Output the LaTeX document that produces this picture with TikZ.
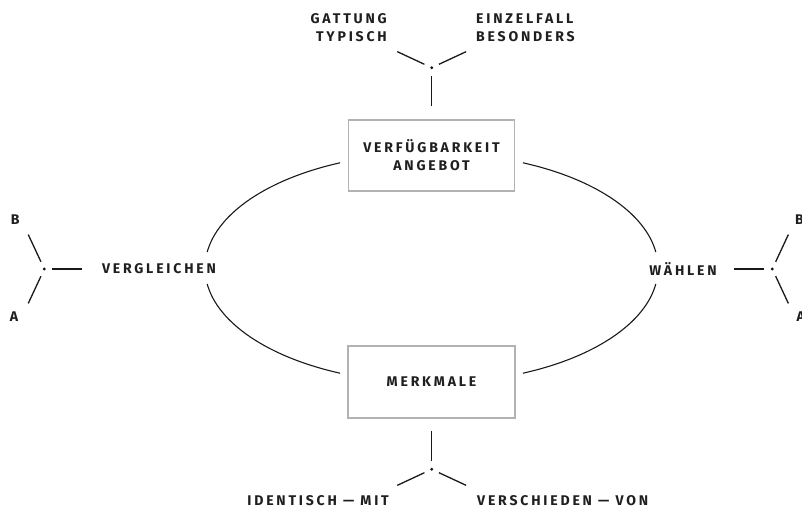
\documentclass[tikz,border=0pt]{standalone}
\usepackage{fontspec}
\setmainfont{Fira Sans}[LetterSpace=20]
\usetikzlibrary{positioning}

\begin{document}
\begin{tikzpicture}[x=1bp, y=1bp,
    lbl/.style={font=\fontsize{14.1}{18}\selectfont\bfseries, text=black!88, inner sep=0pt},
    box/.style={draw=black!30, line width=1.2bp, minimum width=166bp, minimum height=71bp, align=center},
    arm/.style={line width=1.3bp, black!90}]
      \useasboundingbox (0,0) rectangle (802,-508);
      % boxes
      \node [box, lbl, minimum width=166bp, minimum height=71bp] (vb) at (431.5,-155.5) {VERFÜGBARKEIT\\ANGEBOT};
      \node [box, lbl, minimum width=167bp, minimum height=72bp] (mm) at (431.5,-382) {MERKMALE};
      % labels
      \node [lbl, anchor=east, align=right] (gt) at (387,-28) {GATTUNG\\TYPISCH};
      \node [lbl, anchor=west, align=left]  (eb) at (476,-28) {EINZELFALL\\BESONDERS};
      \node [lbl]                (lb) at (15.3,-220) {B};
      \node [lbl]                (la) at (14.0,-317) {A};
      \node [lbl, anchor=west]   (rb) at (795,-220) {B};
      \node [lbl, anchor=west]   (ra) at (796.5,-317) {A};
      \node [lbl]                (vg) at (159,-269) {VERGLEICHEN};
      \node [lbl]                (wa) at (683,-269) {WÄHLEN};
      \node [lbl, anchor=east]   (im) at (389,-501) {IDENTISCH — MIT};
      \node [lbl, anchor=west]   (vv) at (477,-501) {VERSCHIEDEN — VON};
      % branch points
      \coordinate (tp) at (431.7,-67.7);
      \coordinate (lp) at (44.3,-269);
      \coordinate (rp) at (772.3,-269);
      \coordinate (bp) at (431.7,-469.3);
      \foreach \p in {tp,lp,rp,bp} \fill [black!90] (\p) circle (1.6);
      \foreach \a in {270,155,25}  \draw [arm] ([shift={(\a:8)}]tp) -- ([shift={(\a:38)}]tp);
      \foreach \a in {0,115,245}   \draw [arm] ([shift={(\a:8)}]lp) -- ([shift={(\a:38)}]lp);
      \foreach \a in {180,65,295}  \draw [arm] ([shift={(\a:8)}]rp) -- ([shift={(\a:38)}]rp);
      \foreach \a in {90,205,335}  \draw [arm] ([shift={(\a:8)}]bp) -- ([shift={(\a:38)}]bp);
      % ellipse, broken at boxes and labels
      \coordinate (ov) at (431.5,-268);
      \draw [arm, line width=1.1bp] ([shift={(113.8:226.5 and 115)}]ov) arc [start angle=113.8, end angle=172, x radius=226.5, y radius=115];
      \draw [arm, line width=1.1bp] ([shift={(8:226.5 and 115)}]ov) arc [start angle=8, end angle=66.2, x radius=226.5, y radius=115];
      \draw [arm, line width=1.1bp] ([shift={(188:226.5 and 115)}]ov) arc [start angle=188, end angle=246.2, x radius=226.5, y radius=115];
      \draw [arm, line width=1.1bp] ([shift={(293.8:226.5 and 115)}]ov) arc [start angle=293.8, end angle=352, x radius=226.5, y radius=115];
\end{tikzpicture}
\end{document}
